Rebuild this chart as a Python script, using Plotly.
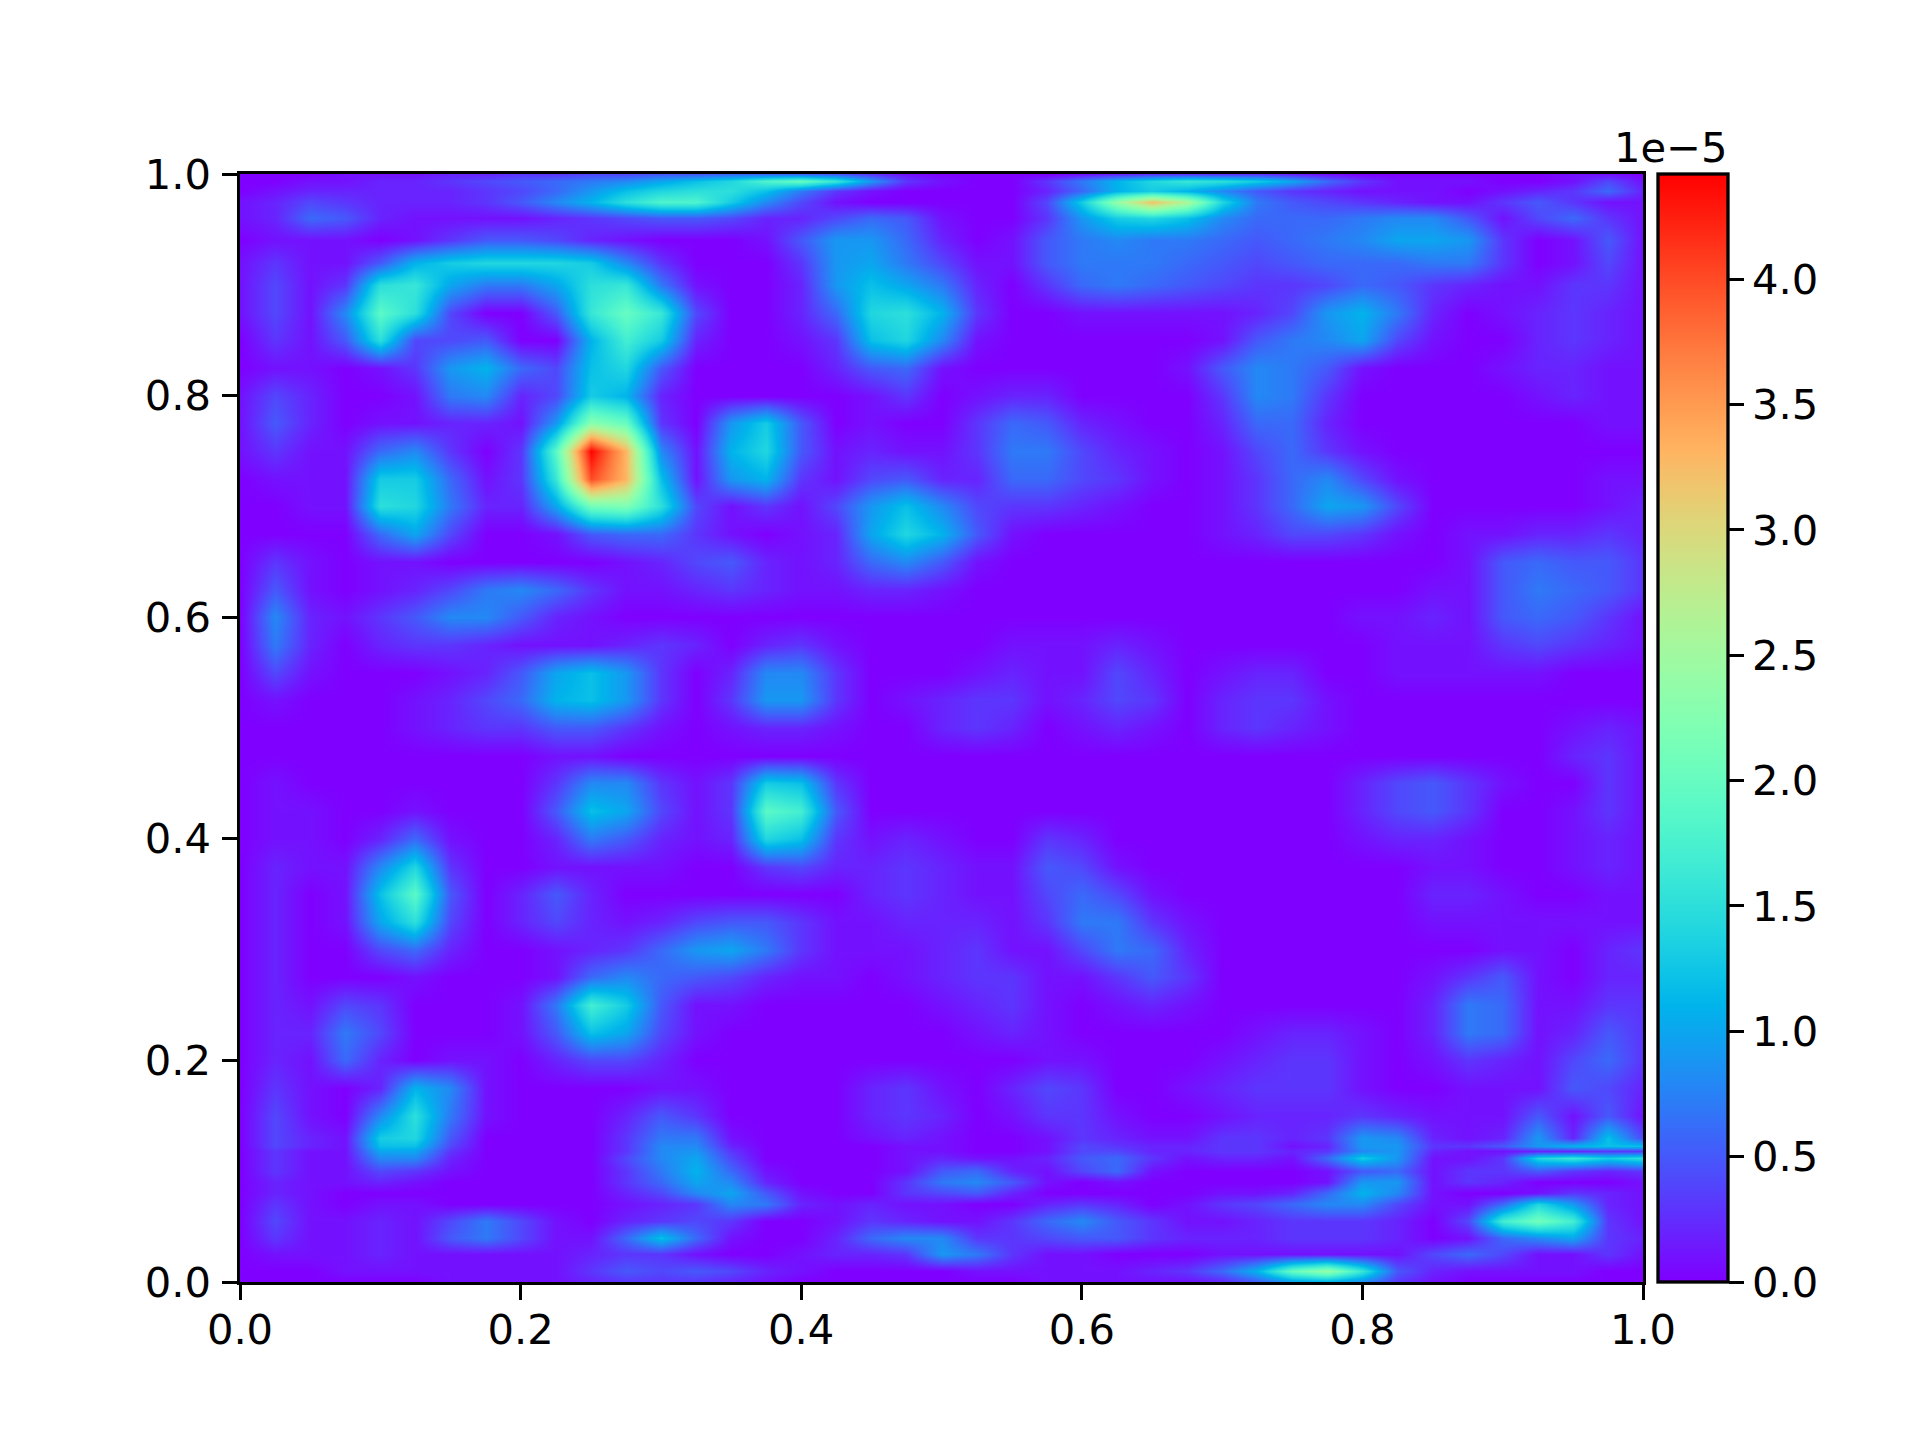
import numpy as np
import plotly.graph_objects as go

#grid the field was read on
xs = [0, .025, .05, .075, .1, .125, .15, .175, .2, .225,
      .25, .275, .3, .325, .35, .375, .4, .425, .45, .475,
      .5, .525, .55, .575, .6, .625, .65, .675, .7, .725,
      .75, .775, .8, .825, .85, .875, .9, .925, .95, .975, 1]
ys = [1, .994, .985, .975, .96, .94, .92, .9, .875, .85, .825, .8, .775, .75, .725, .7, .675,
      .65, .625, .6, .575, .55, .525, .5, .475, .45, .425, .4, .375, .35, .325, .3, .275, .25,
      .225, .2, .175, .15, .13, .123, .118, .112, .1, .09, .08, .07, .055, .04, .025, .01, 0]

#values, top row first, in units of 1e-6
z_rows = [
    [0,0,0,1,1,1,2,2,3,3, 4,4,5,5,6,6,6,5,3,1, 0,0,0,0,1,2,3,3,3,3, 2,1,0,0,0,0,0,0,1,1, 0],
    [0,0,1,1,2,2,3,4,5,6, 7,8,10,12,14,18,20,16,9,3, 1,0,0,3,7,11,14,16,15,13, 10,6,3,1,1,1,0,0,1,4, 1],
    [0,1,2,2,2,2,2,3,4,6, 9,12,14,15,15,12,7,3,1,0, 0,0,0,2,6,11,13,11,8,5, 3,2,1,1,1,0,1,2,3,6, 2],
    [1,2,4,3,2,2,2,3,5,8, 11,15,18,18,13,8,4,1,0,0, 0,0,0,4,13,24,32,26,14,7, 5,4,3,2,1,1,3,5,3,1, 1],
    [1,2,6,5,2,1,1,1,1,2, 3,4,5,5,4,2,2,4,6,5, 1,0,0,3,9,13,14,12,8,6, 6,6,7,8,8,5,1,4,6,3, 1],
    [0,1,1,1,0,1,3,5,5,4, 2,1,0,0,0,1,5,9,9,6, 2,0,1,5,7,8,7,7,6,5, 6,7,8,10,10,9,3,0,1,5, 1],
    [1,3,1,1,5,11,13,14,14,14, 13,8,3,0,0,0,3,9,10,7, 4,1,1,5,7,7,7,6,5,4, 5,6,6,6,7,7,3,0,1,4, 1],
    [1,4,1,3,15,16,10,7,7,10, 15,16,7,1,0,0,2,9,12,10, 7,2,0,3,6,7,6,5,4,3, 3,4,6,5,3,2,1,1,3,3, 1],
    [1,4,1,8,19,15,4,0,0,5, 16,20,16,4,0,0,2,6,14,15, 11,3,0,0,1,1,1,1,1,2, 4,9,11,7,2,0,1,2,3,2, 1],
    [0,3,1,5,15,4,4,5,0,0, 11,17,13,2,0,0,1,3,12,14, 8,1,0,0,0,0,0,0,1,5, 7,8,10,4,1,0,0,2,3,2, 1],
    [0,1,1,0,1,3,9,11,6,4, 12,14,5,0,0,0,0,2,5,6, 1,0,0,0,0,0,0,1,5,8, 7,5,1,0,0,0,1,2,2,1, 1],
    [1,4,2,0,0,1,7,8,2,4, 13,11,2,0,0,0,0,0,1,3, 0,1,2,2,0,0,0,0,3,8, 7,3,0,0,0,0,0,1,2,1, 1],
    [1,5,2,0,1,1,2,2,1,9, 23,20,3,0,9,13,5,0,1,0, 0,3,6,5,2,1,0,0,2,6, 6,2,0,0,0,0,0,0,0,1, 1],
    [1,3,1,1,6,8,3,0,3,19, 44,33,8,1,11,14,5,1,2,1, 1,3,7,7,4,2,1,0,1,4, 6,3,1,0,0,0,0,0,0,0, 0],
    [0,1,1,1,13,13,6,1,3,16, 40,33,12,1,9,11,3,1,4,5, 2,2,6,6,4,3,1,0,1,3, 6,8,4,1,0,0,0,0,0,1, 1],
    [0,0,1,1,15,14,7,2,2,10, 21,22,15,4,1,3,1,4,9,12, 8,4,3,3,2,1,0,0,1,3, 6,10,9,4,0,0,0,0,0,1, 2],
    [0,0,0,0,6,10,4,0,0,1, 5,6,6,3,1,0,1,2,10,14, 11,5,1,0,0,0,0,0,1,2, 4,4,3,1,0,1,1,2,2,3, 2],
    [0,3,1,0,1,1,0,0,0,0, 0,1,2,4,5,2,1,2,6,8, 5,1,0,0,0,0,0,0,0,0, 0,0,0,0,0,1,5,6,5,5, 3],
    [0,5,1,0,1,2,4,7,8,6, 3,1,1,2,3,2,1,1,2,2, 1,0,0,0,0,0,0,0,0,0, 0,0,0,0,1,1,5,7,6,5, 3],
    [0,8,2,1,3,5,8,8,5,2, 1,0,0,0,0,0,0,0,0,0, 0,0,0,0,0,0,0,0,0,0, 0,0,1,1,2,1,5,6,5,3, 1],
    [0,7,2,0,2,3,3,2,1,1, 1,2,3,2,0,2,3,1,0,0, 0,0,1,1,1,2,1,0,0,0, 0,0,0,1,1,1,3,4,3,2, 1],
    [0,4,1,0,0,0,1,2,5,10, 12,9,3,0,2,8,8,3,0,0, 0,1,2,1,1,4,2,0,1,2, 2,0,0,1,1,1,1,1,0,0, 0],
    [0,1,0,0,0,1,2,4,6,11, 12,9,3,0,3,9,9,3,0,1, 2,3,3,1,2,4,3,0,2,3, 3,1,0,0,0,0,0,0,0,0, 0],
    [0,0,0,0,0,1,2,3,3,5, 5,3,1,0,1,2,2,1,0,0, 2,3,2,0,1,2,1,0,2,3, 2,1,0,0,0,0,0,0,1,2, 1],
    [0,0,0,0,0,0,0,0,0,1, 1,0,0,0,0,0,0,0,0,0, 0,0,0,0,0,0,0,0,0,0, 0,0,0,0,0,0,0,0,2,3, 1],
    [0,1,0,0,0,0,0,0,0,3, 8,8,3,1,3,13,12,3,0,0, 0,0,0,0,0,0,0,0,0,0, 0,0,2,4,5,3,1,0,0,3, 1],
    [0,1,1,0,0,1,0,0,0,5, 12,10,4,1,3,19,17,5,0,0, 0,0,0,0,0,0,0,0,0,0, 0,0,2,4,5,3,0,0,1,3, 1],
    [0,1,1,0,2,6,1,0,0,2, 7,5,2,1,2,14,12,3,1,2, 1,0,0,3,2,0,0,0,0,0, 0,0,1,2,2,1,0,0,1,2, 1],
    [0,2,1,1,8,14,3,0,0,1, 1,1,1,0,0,3,4,2,2,3, 2,1,1,5,4,1,0,0,0,0, 0,0,0,0,1,1,0,0,1,2, 1],
    [0,2,0,1,12,19,5,0,2,5, 2,0,0,0,0,0,0,0,2,3, 2,1,1,4,6,4,1,0,0,0, 0,0,0,0,2,2,1,0,0,1, 1],
    [0,2,0,1,10,15,4,0,2,4, 2,1,2,4,5,5,3,1,1,2, 2,2,1,3,7,7,3,1,0,0, 0,0,0,0,1,1,1,1,1,1, 1],
    [0,2,0,0,4,6,2,0,0,1, 2,3,6,9,10,7,3,1,1,1, 2,3,1,1,4,7,6,2,0,0, 0,0,0,0,0,0,1,1,0,2, 3],
    [0,2,0,0,0,1,0,0,0,1, 6,8,6,5,4,2,1,1,0,1, 2,3,3,1,1,3,5,3,0,0, 0,0,0,0,1,3,5,1,0,2, 2],
    [0,2,1,4,3,0,0,0,1,7, 17,13,5,1,1,0,0,0,0,0, 1,2,3,1,0,1,2,1,0,0, 0,0,0,0,2,7,6,1,1,3, 3],
    [0,2,2,7,4,0,0,0,1,5, 12,10,4,1,0,0,0,0,0,0, 0,1,2,1,0,0,0,0,0,1, 2,2,1,0,2,7,6,1,2,5, 3],
    [0,2,1,6,2,0,1,1,0,2, 4,4,2,0,0,0,0,0,0,0, 0,0,0,1,1,0,0,0,1,2, 3,3,1,0,1,3,2,1,4,6, 3],
    [0,3,1,0,2,11,8,1,0,0, 0,0,1,1,0,0,0,0,2,3, 1,0,2,4,3,0,0,1,2,3, 3,3,1,0,0,1,1,1,5,4, 2],
    [0,4,1,0,8,15,7,1,0,0, 0,2,5,3,0,0,0,0,2,3, 2,0,1,3,3,1,0,0,1,2, 2,2,3,2,1,1,1,5,1,5, 1],
    [0,4,2,1,13,14,5,0,0,0, 0,3,7,7,1,0,0,0,1,2, 1,0,0,1,3,2,1,1,3,3, 2,3,9,8,2,1,2,9,2,12, 4],
    [0,4,2,1,12,12,4,0,0,0, 0,3,8,8,2,0,0,0,0,1, 1,0,0,1,4,3,2,2,3,3, 1,2,9,9,3,3,5,9,11,12, 12],
    [0,3,1,1,10,10,3,0,0,0, 0,3,8,9,3,0,0,0,0,1, 1,0,0,1,4,4,2,2,3,3, 2,3,8,9,2,1,1,2,2,3, 3],
    [0,3,1,1,8,8,2,0,0,0, 0,4,8,10,4,0,0,0,0,1, 2,1,1,2,5,6,3,1,2,2, 1,6,13,9,1,1,3,14,16,13, 15],
    [0,3,1,1,4,3,1,0,0,0, 0,3,7,11,6,1,0,0,0,1, 5,6,2,1,4,6,1,0,0,0, 0,1,5,6,1,3,3,5,3,2, 3],
    [0,2,1,1,2,1,0,0,0,0, 0,3,6,10,8,2,0,0,0,3, 7,8,5,1,0,1,0,0,0,0, 0,1,9,9,1,3,2,0,0,0, 1],
    [0,2,1,0,0,0,0,0,0,0, 0,2,4,8,10,5,1,0,0,3, 4,5,2,0,0,0,0,0,1,1, 2,6,11,8,1,0,0,1,3,2, 1],
    [0,3,1,0,1,1,0,0,0,0, 0,1,2,3,8,7,2,1,2,1, 1,0,0,2,3,2,0,1,3,4, 6,8,8,4,1,1,6,14,9,2, 1],
    [0,4,1,1,2,1,4,7,4,1, 0,2,3,4,3,0,0,1,3,2, 1,1,3,6,8,5,3,1,1,2, 3,3,3,2,0,4,17,21,17,3, 1],
    [0,3,1,1,2,1,5,7,4,1, 1,6,12,6,1,0,0,2,6,8, 8,3,3,4,5,5,3,2,2,2, 3,3,3,2,0,1,6,8,10,3, 2],
    [0,1,1,1,2,1,1,1,1,1, 2,3,3,1,0,0,1,2,2,3, 9,7,3,1,1,0,0,0,1,1, 1,1,1,1,4,6,4,1,1,3, 1],
    [0,0,0,1,1,1,1,1,1,1, 3,5,4,5,4,2,1,0,0,0, 0,1,1,1,1,1,2,3,6,11, 20,24,16,5,2,1,1,1,1,0, 0],
    [0,0,0,0,0,0,1,1,1,1, 2,3,3,3,2,1,0,0,0,0, 0,0,0,1,1,1,1,1,2,5, 9,10,8,3,1,0,0,0,0,0, 0],
]

axis_ticks = [0, .2, .4, .6, .8, 1]
bar_ticks = [0, .5, 1, 1.5, 2, 2.5, 3, 3.5, 4]
z_max = 4.42e-5

#matplotlib rainbow colormap
t = np.linspace(0, 1, 33)
rainbow = [[float(v), 'rgb(%d,%d,%d)' % (255 * min(abs(2 * v - .5), 1),
                                         255 * np.sin(np.pi * v),
                                         255 * np.cos(np.pi * v / 2))] for v in t]

font = dict(family='DejaVu Sans', size=41.67, color='black')
z = np.array(z_rows[::-1]) * 1e-6

fig = go.Figure(go.Heatmap(
    x=xs, y=ys[::-1], z=z,
    zsmooth='best', zmin=0, zmax=z_max,
    colorscale=rainbow,
    colorbar=dict(
        thickness=70, thicknessmode='pixels',
        len=1, lenmode='fraction',
        x=(1658 - 240) / 1403, xanchor='left', xpad=0,
        y=0, yanchor='bottom', ypad=0,
        outlinewidth=3.3, outlinecolor='black', borderwidth=0,
        ticks='outside', ticklen=14.6, tickwidth=3.3, tickcolor='black',
        tickvals=[v * 1e-5 for v in bar_ticks],
        ticktext=['%.1f' % v for v in bar_ticks],
        tickfont=font
    )
))

axis = dict(
    range=[0, 1], tickvals=axis_ticks, ticktext=['%.1f' % v for v in axis_ticks],
    ticks='outside', ticklen=14.6, tickwidth=3.3, tickcolor='black',
    showline=True, linewidth=3.3, linecolor='black', mirror=True,
    showgrid=False, zeroline=False, tickfont=font
)

fig.update_layout(
    width=1920, height=1440,
    margin=dict(l=240, r=277, t=174, b=158, autoexpand=False),
    paper_bgcolor='white', plot_bgcolor='white',
    xaxis=dict(axis, ticklabelstandoff=-6),
    yaxis=dict(axis, ticklabelstandoff=3),
    annotations=[dict(
        text='1e\u22125', showarrow=False, font=font,
        xref='paper', yref='paper', x=(1730 - 240) / 1403, y=1,
        xanchor='right', yanchor='bottom'
    )]
)

fig.write_html('out.html', config=dict(displayModeBar=False), post_script="document.body.style.margin='0';")
